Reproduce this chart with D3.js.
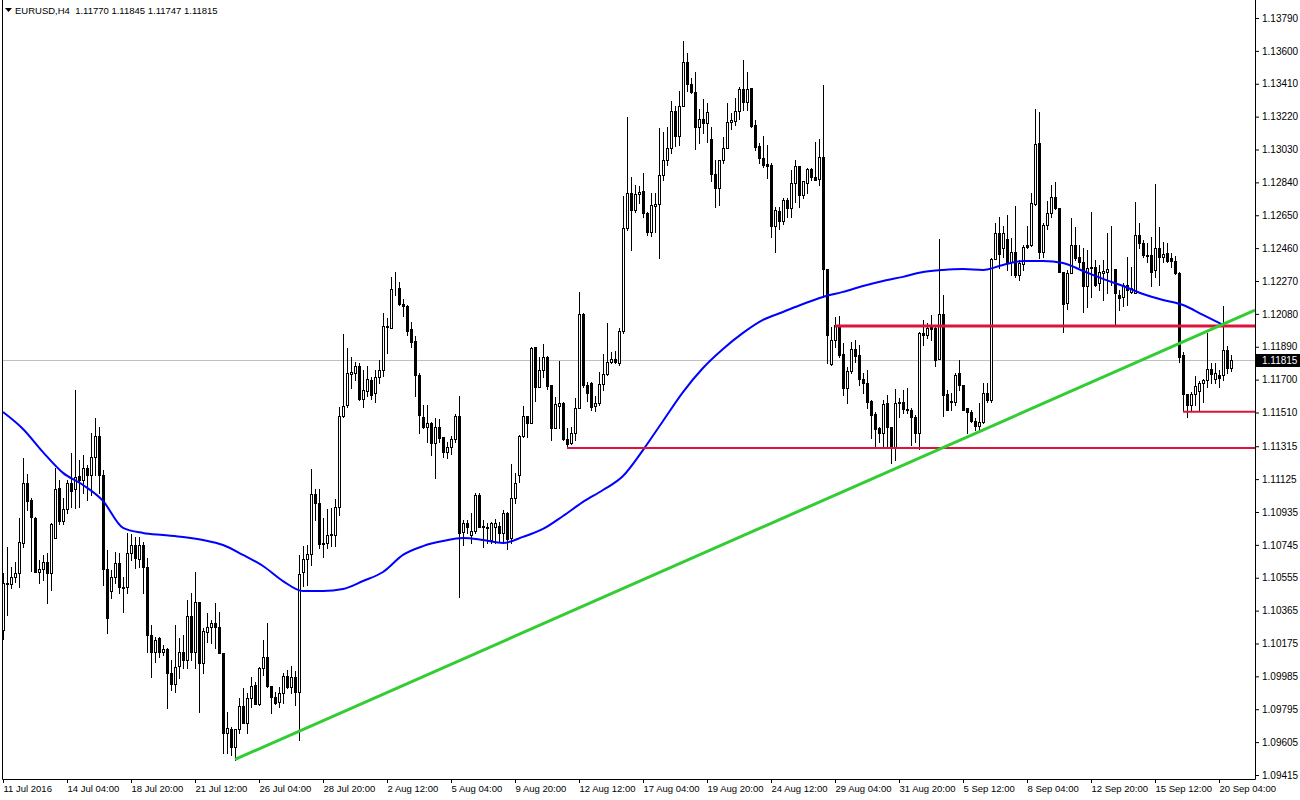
<!DOCTYPE html>
<html>
<head>
<meta charset="utf-8">
<script src="https://cdn.jsdelivr.net/npm/d3@7"></script>
<style>
  html, body { margin: 0; padding: 0; background: #fff; }
  svg { display: block; font-family: "Liberation Sans", Arial, sans-serif; }
</style>
</head>
<body>
<div id="chart"></div>
<script>
// EURUSD H4, one value per bar, oldest first
const opens = [
  1.10253,1.10519,1.10519,1.10560,1.10583,1.10756,1.11103,1.11005,1.10901,1.10588,
  1.10606,1.10646,1.10583,1.10785,1.11074,1.10883,1.10953,1.11103,1.11068,1.11143,
  1.11120,1.11190,1.11149,1.11253,1.11374,1.11149,1.10606,1.10478,1.10560,1.10641,
  1.10502,1.10502,1.10699,1.10744,1.10664,1.10744,1.10618,1.10224,1.10126,1.10207,
  1.10126,1.10143,1.10005,1.09941,1.10045,1.10126,1.10080,1.10334,1.10126,1.10415,
  1.10063,1.10241,1.10271,1.10294,1.10271,1.10121,1.09658,1.09681,1.09578,1.09681,
  1.09814,1.09716,1.09861,1.09935,1.09826,1.10034,1.10098,1.09929,1.09867,1.09837,
  1.09890,1.09987,1.09924,1.09982,1.09895,1.10588,1.10664,1.10693,1.11039,1.10988,
  1.10756,1.10756,1.10802,1.10802,1.10965,1.11490,1.11553,1.11733,1.11739,1.11779,
  1.11588,1.11634,1.11698,1.11623,1.11716,1.11756,1.12010,1.11998,1.12218,1.12230,
  1.12137,1.12125,1.11993,1.11923,1.11727,1.11485,1.11427,1.11450,1.11334,1.11427,
  1.11369,1.11281,1.11311,1.11357,1.11490,1.10820,1.10872,1.10802,1.10825,1.11033,
  1.10855,1.10849,1.10773,1.10849,1.10855,1.10814,1.10930,1.10785,1.11016,1.11149,
  1.11374,1.11490,1.11450,1.11889,1.11658,1.11756,1.11831,1.11669,1.11421,1.11547,
  1.11565,1.11357,1.11334,1.11392,1.11536,1.12080,1.11669,1.11681,1.11547,1.11565,
  1.11675,1.11733,1.11802,1.11820,1.11796,1.11981,1.12577,1.12779,1.12680,1.12773,
  1.12790,1.12663,1.12553,1.12703,1.12715,1.12883,1.12969,1.13039,1.13252,1.13108,
  1.13281,1.13536,1.13409,1.13362,1.13161,1.13207,1.13184,1.13091,1.12889,1.12808,
  1.12969,1.13039,1.13189,1.13195,1.13252,1.13380,1.13304,1.13385,1.13172,1.13050,
  1.12981,1.12946,1.12940,1.12588,1.12674,1.12617,1.12738,1.12692,1.12837,1.12935,
  1.12767,1.12837,1.12917,1.12871,1.12860,1.12987,1.12339,1.11790,1.11929,1.12016,
  1.11848,1.11652,1.11750,1.11877,1.11843,1.11704,1.11681,1.11576,1.11502,1.11421,
  1.11392,1.11565,1.11427,1.11311,1.11565,1.11570,1.11530,1.11525,1.11485,1.11392,
  1.11970,1.11958,1.12004,1.11998,1.11820,1.12080,1.11617,1.11570,1.11570,1.11739,
  1.11669,1.11536,1.11513,1.11461,1.11432,1.11455,1.11623,1.11582,1.12397,1.12548,
  1.12461,1.12513,1.12380,1.12438,1.12305,1.12368,1.12478,1.12478,1.12715,1.13068,
  1.12438,1.12594,1.12663,1.12756,1.12692,1.12322,1.12143,1.12317,1.12478,1.12409,
  1.12380,1.12241,1.12351,1.12351,1.12258,1.12317,1.12322,1.12339,1.12339,1.12189,
  1.12178,1.12247,1.12207,1.12201,1.12536,1.12490,1.12420,1.12420,1.12334,1.12461,
  1.12409,1.12432,1.12403,1.12386,1.12317,1.11843,1.11617,1.11553,1.11617,1.11634,
  1.11681,1.11698,1.11762,1.11704,1.11727,1.11727,1.11871,1.11770
];
const highs = [
  1.10583,1.10733,1.10618,1.10646,1.10901,1.11247,1.11155,1.11016,1.10907,1.10658,
  1.10687,1.10699,1.10872,1.11190,1.11120,1.11016,1.11120,1.11276,1.11640,1.11236,
  1.11264,1.11207,1.11392,1.11479,1.11427,1.11178,1.10716,1.10600,1.10704,1.10699,
  1.10560,1.10814,1.10808,1.10791,1.10791,1.10761,1.10670,1.10282,1.10213,1.10213,
  1.10166,1.10149,1.10080,1.10282,1.10207,1.10224,1.10427,1.10467,1.10588,1.10415,
  1.10265,1.10352,1.10311,1.10410,1.10357,1.10121,1.09779,1.09693,1.09681,1.09861,
  1.09918,1.09890,1.09982,1.09952,1.10040,1.10195,1.10294,1.09929,1.09895,1.09924,
  1.10005,1.10022,1.10045,1.10016,1.10687,1.10738,1.10744,1.11184,1.11068,1.11068,
  1.10901,1.10953,1.10959,1.11010,1.11542,1.11964,1.11883,1.11831,1.11802,1.11796,
  1.11756,1.11779,1.11716,1.11756,1.11814,1.12085,1.12057,1.12294,1.12322,1.12264,
  1.12166,1.12131,1.12033,1.11952,1.11739,1.11553,1.11553,1.11455,1.11479,1.11473,
  1.11369,1.11339,1.11374,1.11502,1.11605,1.10889,1.10889,1.10930,1.11045,1.11045,
  1.10889,1.10872,1.10878,1.10895,1.10878,1.10947,1.10936,1.11213,1.11161,1.11380,
  1.11547,1.11490,1.11889,1.11889,1.11831,1.11906,1.11837,1.11669,1.11600,1.11808,
  1.11570,1.11421,1.11427,1.11594,1.12206,1.12085,1.11687,1.11687,1.11605,1.11744,
  1.11848,1.12027,1.11860,1.11866,1.11998,1.12759,1.13218,1.12871,1.12825,1.12819,
  1.12894,1.12668,1.12779,1.12779,1.13155,1.13131,1.13161,1.13310,1.13281,1.13368,
  1.13657,1.13588,1.13443,1.13478,1.13264,1.13322,1.13299,1.13161,1.12969,1.12969,
  1.13102,1.13299,1.13241,1.13328,1.13391,1.13547,1.13478,1.13385,1.13201,1.13068,
  1.13108,1.13056,1.12952,1.12698,1.12698,1.12750,1.12750,1.12912,1.12969,1.12935,
  1.12848,1.12923,1.12923,1.13073,1.13091,1.13403,1.12339,1.12004,1.12062,1.12068,
  1.11912,1.11774,1.11917,1.11929,1.11900,1.11739,1.11756,1.11582,1.11513,1.11427,
  1.11582,1.11611,1.11427,1.11646,1.11594,1.11640,1.11652,1.11536,1.11496,1.11975,
  1.12045,1.12027,1.12074,1.12004,1.12513,1.12189,1.11640,1.11623,1.11739,1.11814,
  1.11669,1.11536,1.11525,1.11479,1.11565,1.11681,1.11681,1.12403,1.12605,1.12640,
  1.12588,1.12651,1.12519,1.12703,1.12391,1.12478,1.12588,1.12779,1.13264,1.13247,
  1.12605,1.12732,1.12825,1.12842,1.12692,1.12322,1.12334,1.12634,1.12582,1.12478,
  1.12461,1.12449,1.12669,1.12391,1.12363,1.12391,1.12548,1.12588,1.12339,1.12218,
  1.12259,1.12409,1.12351,1.12727,1.12605,1.12507,1.12490,1.12524,1.12831,1.12582,
  1.12496,1.12490,1.12432,1.12414,1.12322,1.11860,1.11617,1.11629,1.11721,1.11692,
  1.11704,1.11970,1.11796,1.11796,1.11756,1.12125,1.11894,1.11845
];
const lows = [
  1.10201,1.10340,1.10496,1.10530,1.10502,1.10733,1.10947,1.10594,1.10588,1.10525,
  1.10542,1.10410,1.10484,1.10785,1.10866,1.10866,1.10930,1.10965,1.10959,1.10965,
  1.11045,1.11005,1.11033,1.11149,1.11045,1.10513,1.10236,1.10438,1.10525,1.10467,
  1.10357,1.10467,1.10658,1.10612,1.10618,1.10467,1.10126,1.09982,1.10068,1.10098,
  1.10109,1.09803,1.09907,1.09895,1.09976,1.10034,1.10034,1.10080,1.10034,1.09779,
  1.10005,1.10183,1.10178,1.10149,1.10121,1.09543,1.09543,1.09531,1.09502,1.09658,
  1.09716,1.09658,1.09809,1.09826,1.09820,1.09993,1.09924,1.09774,1.09826,1.09809,
  1.09832,1.09918,1.09890,1.09820,1.09618,1.10507,1.10513,1.10629,1.10889,1.10727,
  1.10676,1.10727,1.10738,1.10738,1.10918,1.11485,1.11542,1.11652,1.11698,1.11582,
  1.11542,1.11605,1.11588,1.11570,1.11681,1.11721,1.11854,1.11998,1.12189,1.12131,
  1.12068,1.11958,1.11889,1.11605,1.11392,1.11421,1.11339,1.11264,1.11132,1.11339,
  1.11253,1.11247,1.11270,1.11339,1.10444,1.10744,1.10814,1.10756,1.10814,1.10849,
  1.10733,1.10756,1.10756,1.10756,1.10761,1.10756,1.10721,1.10756,1.10988,1.11109,
  1.11368,1.11368,1.11450,1.11576,1.11658,1.11716,1.11646,1.11351,1.11421,1.11421,
  1.11351,1.11311,1.11328,1.11351,1.11536,1.11658,1.11576,1.11525,1.11519,1.11553,
  1.11640,1.11727,1.11796,1.11796,1.11785,1.11970,1.12565,1.12449,1.12668,1.12721,
  1.12640,1.12536,1.12530,1.12553,1.12403,1.12854,1.12940,1.13010,1.13050,1.13056,
  1.13281,1.13368,1.13357,1.13033,1.13068,1.13126,1.13073,1.12848,1.12698,1.12709,
  1.12952,1.13039,1.13149,1.13172,1.13207,1.13258,1.13258,1.13161,1.13027,1.12952,
  1.12929,1.12866,1.12525,1.12438,1.12571,1.12600,1.12640,1.12640,1.12727,1.12698,
  1.12750,1.12779,1.12854,1.12854,1.12825,1.12178,1.11796,1.11785,1.11889,1.11831,
  1.11611,1.11565,1.11739,1.11802,1.11669,1.11623,1.11536,1.11363,1.11311,1.11339,
  1.11311,1.11311,1.11218,1.11236,1.11485,1.11508,1.11508,1.11322,1.11339,1.11299,
  1.11900,1.11941,1.11929,1.11779,1.11820,1.11490,1.11525,1.11525,1.11553,1.11640,
  1.11525,1.11392,1.11455,1.11409,1.11409,1.11450,1.11570,1.11570,1.12397,1.12345,
  1.12409,1.12334,1.12305,1.12294,1.12276,1.12334,1.12461,1.12472,1.12709,1.12403,
  1.12409,1.12571,1.12640,1.12686,1.12322,1.11975,1.12108,1.12317,1.12391,1.12351,
  1.12091,1.12120,1.12178,1.12241,1.12218,1.12160,1.12201,1.12247,1.12016,1.12103,
  1.12125,1.12131,1.12201,1.12201,1.12461,1.12409,1.12380,1.12241,1.12294,1.12247,
  1.12380,1.12380,1.12351,1.12311,1.11802,1.11525,1.11485,1.11519,1.11553,1.11525,
  1.11570,1.11658,1.11681,1.11681,1.11658,1.11698,1.11739,1.11747
];
const closes = [
  1.10525,1.10525,1.10560,1.10583,1.10761,1.11103,1.10999,1.10907,1.10588,1.10606,
  1.10646,1.10583,1.10866,1.11068,1.10883,1.10953,1.11103,1.11056,1.11138,1.11120,
  1.11190,1.11149,1.11253,1.11374,1.11149,1.10606,1.10323,1.10560,1.10641,1.10502,
  1.10496,1.10699,1.10744,1.10670,1.10744,1.10618,1.10224,1.10126,1.10195,1.10126,
  1.10143,1.10005,1.09941,1.10040,1.10126,1.10080,1.10334,1.10126,1.10415,1.10063,
  1.10247,1.10271,1.10294,1.10271,1.10121,1.09658,1.09687,1.09578,1.09681,1.09814,
  1.09716,1.09861,1.09929,1.09826,1.10034,1.10098,1.09929,1.09867,1.09832,1.09890,
  1.09987,1.09924,1.09982,1.09895,1.10577,1.10664,1.10693,1.11039,1.10988,1.10750,
  1.10750,1.10802,1.10808,1.10965,1.11490,1.11547,1.11739,1.11744,1.11779,1.11588,
  1.11640,1.11704,1.11611,1.11716,1.11756,1.12010,1.12004,1.12224,1.12218,1.12137,
  1.12125,1.11981,1.11917,1.11727,1.11496,1.11427,1.11450,1.11334,1.11427,1.11363,
  1.11281,1.11311,1.11357,1.11490,1.10814,1.10872,1.10849,1.10825,1.11033,1.10849,
  1.10849,1.10843,1.10872,1.10872,1.10814,1.10930,1.10779,1.11016,1.11103,1.11374,
  1.11490,1.11450,1.11883,1.11658,1.11756,1.11831,1.11663,1.11421,1.11559,1.11565,
  1.11357,1.11328,1.11392,1.11536,1.12080,1.11669,1.11623,1.11542,1.11565,1.11675,
  1.11733,1.11802,1.11820,1.11802,1.11981,1.12577,1.12779,1.12680,1.12773,1.12785,
  1.12663,1.12553,1.12709,1.12715,1.12883,1.12969,1.13039,1.13252,1.13108,1.13281,
  1.13536,1.13409,1.13362,1.13161,1.13207,1.13184,1.13247,1.12889,1.12808,1.12969,
  1.13039,1.13189,1.13201,1.13252,1.13380,1.13304,1.13380,1.13166,1.13045,1.12981,
  1.12940,1.12935,1.12588,1.12680,1.12617,1.12738,1.12692,1.12837,1.12935,1.12767,
  1.12848,1.12917,1.12871,1.12854,1.12987,1.12339,1.11958,1.11929,1.12016,1.11843,
  1.11652,1.11750,1.11877,1.11837,1.11704,1.11681,1.11570,1.11496,1.11415,1.11392,
  1.11559,1.11427,1.11311,1.11565,1.11570,1.11530,1.11525,1.11485,1.11392,1.11970,
  1.11958,1.11998,1.11993,1.11814,1.12080,1.11611,1.11525,1.11576,1.11727,1.11669,
  1.11525,1.11513,1.11461,1.11432,1.11455,1.11623,1.11582,1.12397,1.12548,1.12426,
  1.12548,1.12380,1.12438,1.12305,1.12374,1.12467,1.12467,1.12721,1.13062,1.12438,
  1.12594,1.12663,1.12756,1.12692,1.12322,1.12137,1.12317,1.12478,1.12403,1.12380,
  1.12241,1.12345,1.12345,1.12247,1.12322,1.12328,1.12339,1.12342,1.12201,1.12172,
  1.12247,1.12218,1.12230,1.12536,1.12490,1.12420,1.12414,1.12322,1.12461,1.12409,
  1.12426,1.12386,1.12386,1.12317,1.11831,1.11617,1.11553,1.11617,1.11663,1.11681,
  1.11698,1.11762,1.11733,1.11739,1.11710,1.11871,1.11767,1.11815
];

// moving average, read every MA_STEP bars
const MA_STEP = 5;
const maValues = [
  1.11513,1.11415,1.11281,1.11161,1.11091,1.10999,1.10843,1.10814,1.10802,1.10791,
  1.10773,1.10744,1.10687,1.10623,1.10536,1.10478,1.10478,1.10490,1.10536,1.10588,
  1.10687,1.10738,1.10767,1.10785,1.10773,1.10756,1.10791,1.10837,1.10912,1.10993,
  1.11062,1.11143,1.11293,1.11461,1.11628,1.11767,1.11877,1.11970,1.12045,1.12091,
  1.12137,1.12178,1.12207,1.12241,1.12270,1.12294,1.12322,1.12334,1.12339,1.12334,
  1.12363,1.12386,1.12386,1.12374,1.12328,1.12282,1.12241,1.12195,1.12160,1.12131,
  1.12074,1.12016
];

// time axis: one label every LABEL_STEP bars
const LABEL_STEP = 16;
const timeLabels = [
  '11 Jul 2016', '14 Jul 04:00', '18 Jul 20:00', '21 Jul 12:00', '26 Jul 04:00',
  '28 Jul 20:00', '2 Aug 12:00', '5 Aug 04:00', '9 Aug 20:00', '12 Aug 12:00',
  '17 Aug 04:00', '19 Aug 20:00', '24 Aug 12:00', '29 Aug 04:00', '31 Aug 20:00',
  '5 Sep 12:00', '8 Sep 04:00', '12 Sep 20:00', '15 Sep 12:00', '20 Sep 04:00'
];

const priceTicks = [
  1.13790, 1.13600, 1.13410, 1.13220, 1.13030, 1.12840, 1.12650, 1.12460,
  1.12270, 1.12080, 1.11890, 1.11700, 1.11510, 1.11315, 1.11125, 1.10935,
  1.10745, 1.10555, 1.10365, 1.10175, 1.09985, 1.09795, 1.09605, 1.09415
];

// drawn objects
const levelPrices = [1.12010, 1.11305, 1.11515];
const levelFromBar = [208, 141, 295];
const trendBars = [58, 305];
const trendPrices = [1.09505, 1.12020];

const symbol = 'EURUSD,H4';

// ---- layout
const width = 1300, height = 800;
const plotRight = 1255, plotBottom = 779, plotLeft = 2;
const nBars = closes.length;

const fmt = d3.format('.5f');

const x = d3.scaleLinear().domain([0, nBars - 1]).range([3, 3 + 4 * (nBars - 1)]);
const y = d3.scaleLinear().domain([1.09415, 1.13790]).range([775, 18]);

const bars = closes.map((c, i) => ({ i, o: opens[i], h: highs[i], l: lows[i], c }));

const svg = d3.select('#chart').append('svg')
  .attr('width', width).attr('height', height);

svg.append('clipPath').attr('id', 'plot')
  .append('rect').attr('x', plotLeft).attr('y', 0)
  .attr('width', plotRight - plotLeft).attr('height', plotBottom);

const plot = svg.append('g').attr('clip-path', 'url(#plot)');

const px = v => Math.round(v) + 0.5;

// bid line
const last = bars[nBars - 1];
plot.append('line')
  .attr('x1', plotLeft).attr('x2', plotRight)
  .attr('y1', px(y(last.c))).attr('y2', px(y(last.c)))
  .attr('stroke', '#c0c0c0').attr('stroke-width', 1);

// candles
const gCandles = plot.append('g');
gCandles.selectAll('line')
  .data(bars)
  .join('line')
  .attr('x1', d => Math.round(x(d.i)) + 0.5)
  .attr('x2', d => Math.round(x(d.i)) + 0.5)
  .attr('y1', d => Math.round(y(d.h)))
  .attr('y2', d => Math.round(y(d.l)) + 1)
  .attr('stroke', '#000').attr('stroke-width', 1);

gCandles.selectAll('rect')
  .data(bars)
  .join('rect')
  .attr('x', d => Math.round(x(d.i)) - 0.5)
  .attr('width', 2)
  .attr('y', d => px(y(Math.max(d.o, d.c))))
  .attr('height', d => Math.max(0, Math.round(y(Math.min(d.o, d.c))) - Math.round(y(Math.max(d.o, d.c)))))
  .attr('fill', d => d.c >= d.o ? '#fff' : '#000')
  .attr('stroke', '#000').attr('stroke-width', 1);

// moving average
const maLine = d3.line()
  .x((d, k) => x(k * MA_STEP))
  .y(d => y(d))
  .curve(d3.curveMonotoneX);
plot.append('path')
  .datum(maValues)
  .attr('d', maLine)
  .attr('fill', 'none')
  .attr('stroke', '#0000ff').attr('stroke-width', 2);

// horizontal levels
const levelWidths = [3, 2, 2];
levelPrices.forEach((p, k) => {
  plot.append('line')
    .attr('x1', x(levelFromBar[k])).attr('x2', plotRight)
    .attr('y1', y(p)).attr('y2', y(p))
    .attr('stroke', '#dc143c').attr('stroke-width', levelWidths[k]);
});

// trend line, extended to the right edge
const slope = (trendPrices[1] - trendPrices[0]) / (trendBars[1] - trendBars[0]);
const endBar = x.invert(plotRight);
plot.append('line')
  .attr('x1', x(trendBars[0])).attr('y1', y(trendPrices[0]))
  .attr('x2', x(endBar)).attr('y2', y(trendPrices[0] + slope * (endBar - trendBars[0])))
  .attr('stroke', '#32cd32').attr('stroke-width', 3);

// frame
svg.append('path')
  .attr('d', `M${plotLeft + 0.5},0V${plotBottom + 0.5}H${plotRight + 0.5}V0`)
  .attr('fill', 'none').attr('stroke', '#000').attr('stroke-width', 1);

// price axis
const yAxis = svg.append('g')
  .attr('transform', `translate(${plotRight},0)`)
  .call(d3.axisRight(y).tickValues(priceTicks).tickFormat(fmt).tickSize(4).tickPadding(3));
yAxis.select('.domain').remove();
yAxis.selectAll('text').attr('font-size', 10).attr('fill', '#000').attr('font-family', null);
yAxis.selectAll('line').attr('stroke', '#000');

// current price box
const yLast = Math.round(y(last.c));
svg.append('rect')
  .attr('x', plotRight + 1).attr('y', yLast - 6)
  .attr('width', width - plotRight - 1).attr('height', 13)
  .attr('fill', '#000');
svg.append('text')
  .attr('x', plotRight + 7).attr('y', yLast)
  .attr('dy', '0.35em')
  .attr('font-size', 10).attr('fill', '#fff')
  .text(fmt(last.c));

// time axis
const labelBars = timeLabels.map((_, k) => k * LABEL_STEP);
const xAxis = svg.append('g')
  .attr('transform', `translate(0,${plotBottom})`)
  .call(d3.axisBottom(x).tickValues(labelBars).tickFormat((d, k) => timeLabels[k]).tickSize(4).tickPadding(2));
xAxis.select('.domain').remove();
xAxis.selectAll('line').attr('stroke', '#000');
xAxis.selectAll('text')
  .attr('text-anchor', 'start')
  .attr('x', 0)
  .attr('font-size', 9.5).attr('fill', '#000').attr('font-family', null);

// header
svg.append('path')
  .attr('d', 'M5,8H12L8.5,12Z')
  .attr('fill', '#000');
svg.append('text')
  .attr('x', 15).attr('y', 14)
  .attr('font-size', 9.5)
  .style('white-space', 'pre')
  .text(`${symbol}  ${fmt(last.o)} ${fmt(last.h)} ${fmt(last.l)} ${fmt(last.c)}`);
</script>
</body>
</html>
